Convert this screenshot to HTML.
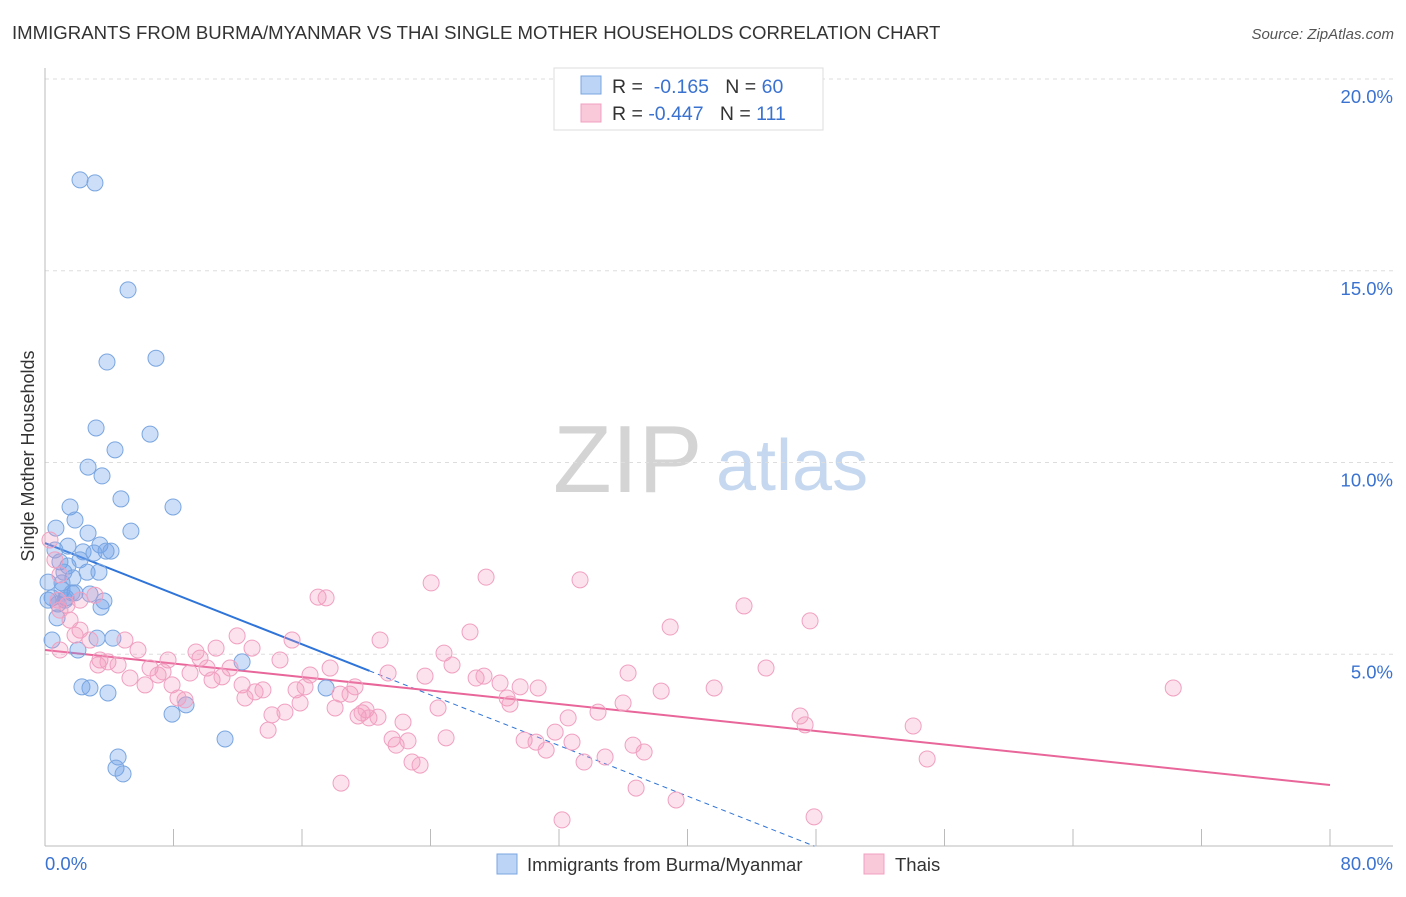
<!DOCTYPE html>
<html><head><meta charset="utf-8"><style>
body{margin:0;background:#fff;font-family:"Liberation Sans",sans-serif;}
svg text{font-family:"Liberation Sans",sans-serif;}
</style></head><body>
<svg id="chart" width="1406" height="892" xmlns="http://www.w3.org/2000/svg">
<text x="12" y="39" font-size="18.6" fill="#333">IMMIGRANTS FROM BURMA/MYANMAR VS THAI SINGLE MOTHER HOUSEHOLDS CORRELATION CHART</text>
<text x="1394" y="39" font-size="15" fill="#555" text-anchor="end" font-style="italic">Source: ZipAtlas.com</text>
<g>
<text x="553" y="492" font-size="96" fill="#d4d4d4" font-family="Liberation Serif,serif">ZIP</text>
<text x="716" y="490" font-size="72" fill="#c6d8ef">atlas</text>
</g>
<g id="grid"></g>
<g id="axes"></g>
<g id="trend"></g>
<g id="pts"></g>
<text transform="translate(34,456) rotate(-90)" font-size="18" fill="#333" text-anchor="middle">Single Mother Households</text>
<g>
<rect x="554" y="68" width="269" height="62" fill="#fff" stroke="#ddd"/>
<rect x="581" y="76" width="20" height="18" fill="#bcd4f5" stroke="#7aa6e0"/>
<rect x="581" y="104" width="20" height="18" fill="#f9c9da" stroke="#f0a0c0"/>
<text x="612" y="93" font-size="19.5" fill="#333">R = <tspan fill="#3a72d0">&#160;-0.165</tspan>&#160;&#160;&#160;N = <tspan fill="#3a72d0">60</tspan></text>
<text x="612" y="120" font-size="19.5" fill="#333">R = <tspan fill="#3a72d0">-0.447</tspan>&#160;&#160;&#160;N = <tspan fill="#3a72d0">111</tspan></text>
</g>
<g>
<rect x="497" y="854" width="20" height="20" fill="#bcd4f5" stroke="#7aa6e0"/>
<text x="527" y="871" font-size="18.5" fill="#333">Immigrants from Burma/Myanmar</text>
<rect x="864" y="854" width="20" height="20" fill="#f9c9da" stroke="#f0a0c0"/>
<text x="895" y="871" font-size="18.5" fill="#333">Thais</text>
</g>
</svg>
<script>
const yTicks=[5,10,15,20];
const yTickLabels=["5.0%","10.0%","15.0%","20.0%"];
const xTickCount=10;
const blueX=[2.18,3.11,5.17,3.86,6.91,3.18,6.54,4.36,2.68,3.55,4.73,1.56,7.97,0.68,1.87,2.68,5.35,1.43,3.42,2.37,3.80,4.11,0.93,1.43,2.62,3.36,1.74,1.06,0.44,0.19,0.81,1.87,2.80,3.67,3.49,0.75,0.44,3.24,4.23,2.05,12.27,2.30,2.80,3.92,7.91,8.78,17.50,11.21,4.55,4.42,4.86,1.06,1.31,1.68,2.18,0.19,0.62,1.18,3.05,1.25];
const blueY=[17.37,17.29,14.50,12.62,12.72,10.90,10.74,10.33,9.88,9.65,9.05,8.84,8.84,8.29,8.50,8.16,8.21,7.82,7.85,7.67,7.69,7.69,7.41,7.30,7.14,7.14,6.99,6.86,6.47,6.41,6.31,6.60,6.57,6.39,6.23,5.95,5.37,5.42,5.42,5.11,4.80,4.15,4.12,3.99,3.44,3.68,4.12,2.79,2.32,2.03,1.88,6.68,6.47,6.60,7.46,6.88,7.72,7.14,7.64,6.41];
const pinkX=[0.31,0.62,0.93,0.81,1.37,1.56,2.18,3.11,0.93,2.18,2.80,3.42,3.30,3.92,4.55,4.98,5.29,5.79,6.23,6.54,7.04,7.35,7.66,7.91,8.28,8.72,9.03,9.40,9.65,10.09,10.40,10.65,11.02,11.52,11.96,12.27,12.45,12.89,13.08,13.57,13.89,14.13,14.63,14.94,15.38,15.63,15.88,16.19,16.50,17.00,17.50,17.75,18.06,18.37,18.43,18.99,19.30,19.49,19.74,19.99,20.17,20.73,20.86,21.36,21.61,21.86,22.29,22.60,22.85,23.35,23.66,24.04,24.47,24.84,24.97,25.34,26.46,26.84,27.33,27.46,28.33,28.77,28.95,29.58,29.83,30.57,30.70,31.20,31.76,32.19,32.57,32.81,33.31,33.56,34.43,34.87,35.99,36.30,36.61,36.80,37.30,38.36,38.92,39.29,41.66,43.52,44.89,47.01,47.32,47.63,47.88,54.05,54.92,70.24,0.93,1.87];
const pinkY=[7.98,7.46,7.07,6.41,6.28,5.89,6.41,6.54,5.11,5.63,5.37,4.85,4.72,4.80,4.72,5.37,4.38,5.11,4.20,4.64,4.46,4.54,4.85,4.20,3.86,3.81,4.51,5.06,4.90,4.64,4.33,5.16,4.41,4.64,5.48,4.20,3.86,5.16,4.02,4.07,3.02,3.42,4.85,3.49,5.37,4.07,3.73,4.15,4.46,6.49,6.47,4.64,3.60,3.96,1.64,3.96,4.15,3.39,3.47,3.55,3.34,3.36,5.37,4.51,2.79,2.63,3.23,2.74,2.19,2.11,4.43,6.86,3.60,5.03,2.82,4.72,5.58,4.38,4.43,7.01,4.25,3.86,3.70,4.15,2.76,2.71,4.12,2.50,2.97,0.68,3.34,2.71,6.94,2.19,3.49,2.32,3.73,4.51,2.63,1.51,2.45,4.04,5.71,1.20,4.12,6.26,4.64,3.39,3.16,5.87,0.76,3.13,2.27,4.12,6.15,5.50];
const blueTrend=[7.90,-0.165,20.2,47.9];
const pinkTrend=[5.11,-0.044];
const NS="http://www.w3.org/2000/svg";
const X=v=>45+v*(1285/80), Y=v=>846-v*38.35;
function mk(t,a,p){const e=document.createElementNS(NS,t);for(const k in a)e.setAttribute(k,a[k]);p.appendChild(e);return e;}
const grid=document.getElementById('grid'),axes=document.getElementById('axes'),tr=document.getElementById('trend'),pts=document.getElementById('pts');
yTicks.forEach((t,i)=>{
 const l=mk('line',{x1:45,x2:1393,y1:Y(t),y2:Y(t),stroke:'#ddd','stroke-dasharray':'4,4'},grid);
 
 
 const tx=mk('text',{x:1393,y:Y(t)+24,'font-size':18.5,fill:'#3a72d0','text-anchor':'end'},axes);
 tx.textContent=yTickLabels[i];
 
 
});
mk('line',{x1:45,x2:45,y1:68,y2:846,stroke:'#bbb'},axes);
mk('line',{x1:45,x2:1393,y1:846,y2:846,stroke:'#bbb'},axes);
for(let i=0;i<=xTickCount;i++){const xv=i*8;mk('line',{x1:X(xv),x2:X(xv),y1:829,y2:846,stroke:'#bbb'},axes);}
const xl0=mk('text',{x:45,y:870,'font-size':18.5,fill:'#3a72d0'},axes);xl0.textContent='0.0%';


const xl1=mk('text',{x:1393,y:870,'font-size':18.5,fill:'#3a72d0','text-anchor':'end'},axes);xl1.textContent='80.0%';


for(let i=0;i<blueX.length;i++){
 const c=mk('circle',{cx:X(blueX[i]),cy:Y(blueY[i]),r:8,fill:'rgba(110,160,235,0.35)',stroke:'#7aa6e0','stroke-width':1},pts);
 
 
}
for(let i=0;i<pinkX.length;i++){
 const c=mk('circle',{cx:X(pinkX[i]),cy:Y(pinkY[i]),r:8,fill:'rgba(245,150,185,0.28)',stroke:'#f0a0c0','stroke-width':1},pts);
 
 
}
const bf=x=>blueTrend[0]+blueTrend[1]*x;
const b1=mk('line',{x1:X(0),y1:Y(bf(0)),x2:X(blueTrend[2]),y2:Y(bf(blueTrend[2])),stroke:'#2f74d8','stroke-width':2},tr);


const b2=mk('line',{x1:X(blueTrend[2]),y1:Y(bf(blueTrend[2])),x2:X(blueTrend[3]),y2:Y(bf(blueTrend[3])),stroke:'#2f74d8','stroke-width':1,'stroke-dasharray':'5,4'},tr);


const pf=x=>pinkTrend[0]+pinkTrend[1]*x;
const p1=mk('line',{x1:X(0),y1:Y(pf(0)),x2:X(80),y2:Y(pf(80)),stroke:'#e8669a','stroke-width':2},tr);


</script>
</body></html>
